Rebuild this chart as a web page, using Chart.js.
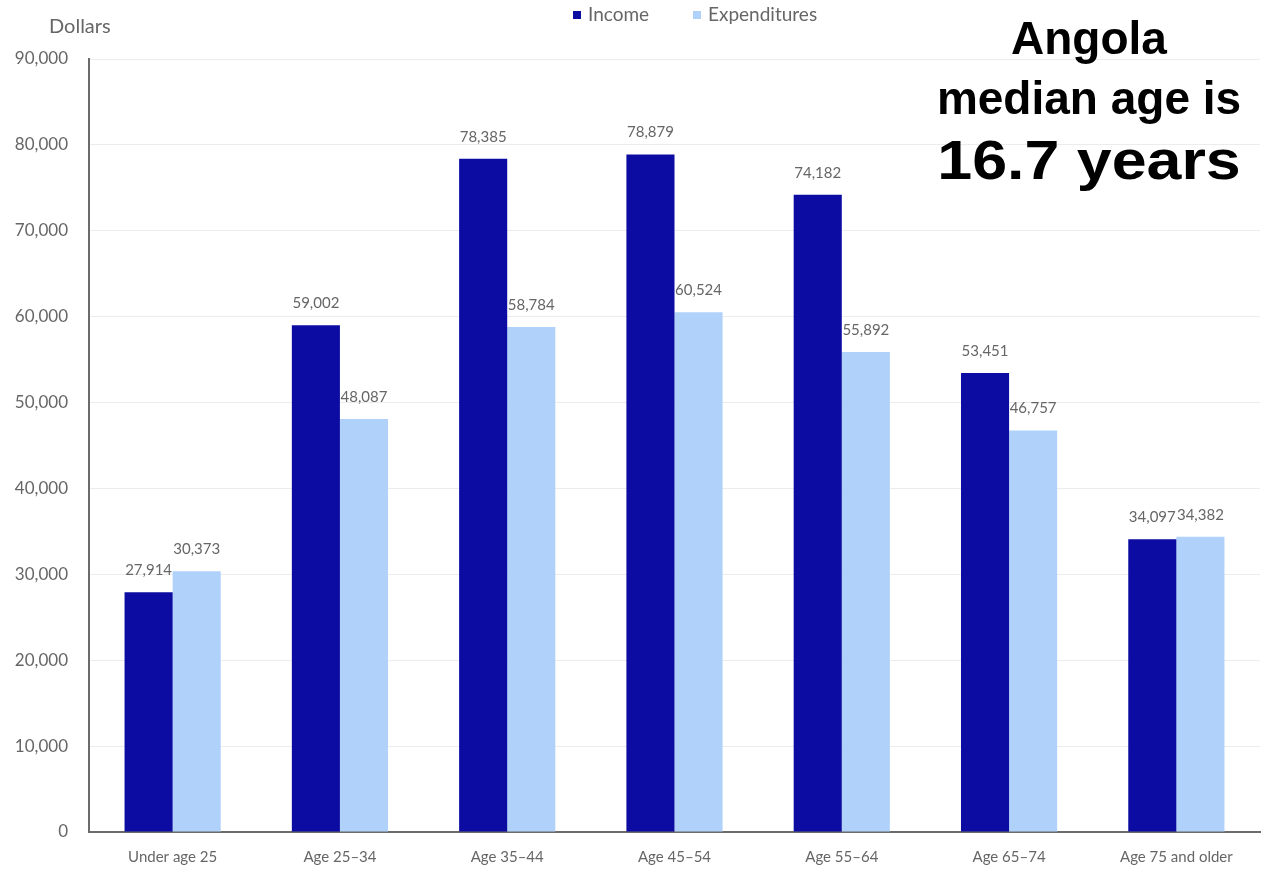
<!DOCTYPE html>
<html>
<head>
<meta charset="utf-8">
<script src="https://cdn.jsdelivr.net/npm/chart.js@4"></script>
<style>
  body { margin: 0; background: #fff; }
  #wrap { position: relative; width: 1272px; height: 873px; }
  .note { position: absolute; left: 889px; width: 400px; text-align: center;
          font-family: "Liberation Sans", Arial, sans-serif; font-weight: bold; color: #000; line-height: 1; }
</style>
</head>
<body>
<div id="wrap">
  <canvas id="chart" width="1272" height="873"></canvas>
  <div class="note" style="top:15px; font-size:46px;">Angola</div>
  <div class="note" style="top:75px; font-size:46px;">median age is</div>
  <div class="note" style="top:132px; font-size:56px; transform:scaleX(1.12);">16.7 years</div>
</div>
<script>
// data
const AGE_GROUPS = ["Under age 25", "Age 25\u201334", "Age 35\u201344", "Age 45\u201354", "Age 55\u201364", "Age 65\u201374", "Age 75 and older"];
const INCOME = [27914, 59002, 78385, 78879, 74182, 53451, 34097];
const EXPENDITURES = [30373, 48087, 58784, 60524, 55892, 46757, 34382];

const INCOME_COLOR = "#0c0ca2";
const EXP_COLOR = "#b0d2fa";
const GREY = "#666666";
const FONT = "Lato, 'Open Sans', sans-serif";

// value labels above the bars, plus the legend and "Dollars" caption
const extras = {
    id: "extras",
    afterDatasetsDraw(chart) {
        const ctx = chart.ctx;
        ctx.save();
        ctx.font = "15px " + FONT;
        ctx.fillStyle = GREY;
        ctx.textAlign = "center";
        ctx.textBaseline = "middle";
        chart.data.datasets.forEach(function (ds, i) {
            chart.getDatasetMeta(i).data.forEach(function (bar, j) {
                ctx.fillText(ds.data[j].toLocaleString("en-US"), bar.x, bar.y - 22);
            });
        });
        // caption top-left
        ctx.font = "20px " + FONT;
        ctx.textAlign = "left";
        ctx.fillText("Dollars", 49, 27);
        // legend
        ctx.font = "19px " + FONT;
        let lx = [573, 693];
        chart.data.datasets.forEach(function (ds, i) {
            ctx.fillStyle = ds.backgroundColor;
            ctx.fillRect(lx[i], 11, 8, 8);
            ctx.fillStyle = GREY;
            ctx.fillText(ds.label, lx[i] + 15, 15);
        });
        ctx.restore();
    }
};

new Chart(document.getElementById("chart"), {
    type: "bar",
    data: {
        labels: AGE_GROUPS,
        datasets: [
            { label: "Income", data: INCOME, backgroundColor: INCOME_COLOR },
            { label: "Expenditures", data: EXPENDITURES, backgroundColor: EXP_COLOR }
        ]
    },
    options: {
        responsive: false,
        animation: false,
        layout: { padding: { top: 59, right: 12, left: 0, bottom: 0 } },
        datasets: { bar: { barPercentage: 1, categoryPercentage: 0.575 } },
        plugins: { legend: { display: false }, tooltip: { enabled: false } },
        scales: {
            x: {
                grid: { display: false, drawTicks: false },
                border: { color: "#6b6b6b", width: 2 },
                ticks: { color: GREY, font: { family: FONT, size: 15 }, padding: 16, maxRotation: 0 },
                afterFit: function (s) { s.height = 41; }
            },
            y: {
                min: 0,
                max: 90000,
                grid: { color: "#ececec", drawTicks: false },
                border: { color: "#6b6b6b", width: 2 },
                ticks: {
                    stepSize: 10000,
                    color: GREY,
                    padding: 21,
                    font: { family: FONT, size: 17 },
                    callback: function (v) { return v.toLocaleString("en-US"); }
                },
                afterFit: function (s) { s.width = 89; }
            }
        }
    },
    plugins: [extras]
});
</script>
</body>
</html>
